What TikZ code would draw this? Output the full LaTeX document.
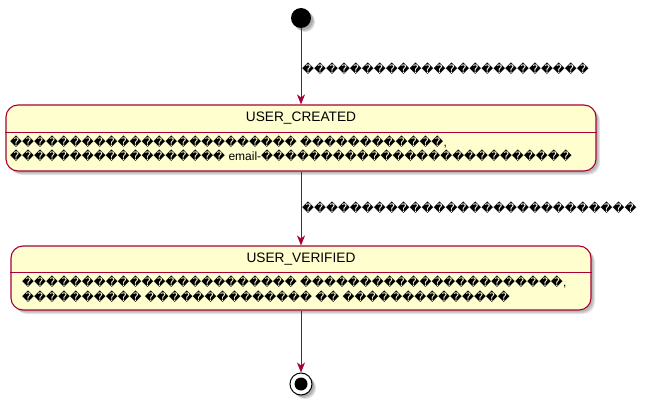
\documentclass[tikz,border=0pt]{standalone}
\usepackage{fontspec}
\setmainfont{Liberation Sans}
\newfontfamily\repfont{DejaVu Sans}
\usetikzlibrary{arrows.meta}
\definecolor{pumlred}{HTML}{A80036}
\definecolor{pumlfill}{HTML}{FEFECE}
\ExplSyntaxOn
\NewDocumentCommand\garb{m}{{\repfont\fontsize{11.65}{14}\selectfont\prg_replicate:nn{#1}{^^^^fffd}}}
\ExplSyntaxOff
\tikzset{
  statebox/.style={draw=pumlred, fill=pumlfill, line width=1.1pt, rounded corners=12pt, inner sep=0pt},
  conn/.style={draw=pumlred, line width=0.9pt, -{Stealth[length=10pt,width=8pt,inset=3pt]}},
  title/.style={font=\fontsize{13.7}{16}\selectfont, inner sep=0pt},
  body/.style={font=\fontsize{12}{14}\selectfont, inner sep=0pt, anchor=west},
  lbl/.style={font=\fontsize{12}{14}\selectfont, inner sep=0pt, anchor=west},
  shadowfill/.style={fill=black, opacity=0.10, rounded corners=12pt}
}
\begin{document}
\begin{tikzpicture}[x=1pt,y=-1pt]
\useasboundingbox (0,0) rectangle (650,401);
% shadows
\foreach \d in {2,3,4}{
  \fill[shadowfill] (6+\d,105+\d) rectangle (596+\d,171+\d);
  \fill[shadowfill] (11+\d,246+\d) rectangle (591+\d,310+\d);
  \fill[black, opacity=0.12] (301+\d,18+\d) circle (10);
  \fill[black, opacity=0.12] (301+\d,384+\d) circle (11);
}
% start
\node[circle, fill=black, minimum size=20pt, inner sep=0pt] (start) at (301,18) {};
% USER_CREATED
\node[statebox, minimum width=590pt, minimum height=66pt] (created) at (301,138) {};
\draw[pumlred, line width=1pt] (created.west |- 0,132) -- (created.east |- 0,132);
\node[title] (createdtitle) at (301,118.5) {USER\_CREATED};
\node[body] (createdl1) at (10,141.5) {\garb{24} \garb{12},};
\node[body] (createdl2) at (10,156) {\garb{18} email-\garb{26}};
% USER_VERIFIED
\node[statebox, minimum width=580pt, minimum height=64pt] (verified) at (301,278) {};
\draw[pumlred, line width=1pt] (verified.west |- 0,272) -- (verified.east |- 0,272);
\node[title] (verifiedtitle) at (301,259) {USER\_VERIFIED};
\node[body] (verifiedl1) at (22,282) {\garb{23} \garb{22},};
\node[body] (verifiedl2) at (22,297) {\garb{10} \garb{14} \garb{2} \garb{14}};
% end
\node[circle, draw=black, fill=white, line width=1pt, minimum size=22pt, inner sep=0pt] (end) at (301,384) {};
\fill[black] (end.center) circle (6.5);
% connectors
\draw[conn] (start) -- (created.north);
\draw[conn] (created.south) -- (verified.north);
\draw[conn] (verified.south) -- (end.north);
% labels
\node[lbl] (l1) at (302,69) {\garb{24}};
\node[lbl] (l2) at (302,208) {\garb{28}};
\end{tikzpicture}
\end{document}
